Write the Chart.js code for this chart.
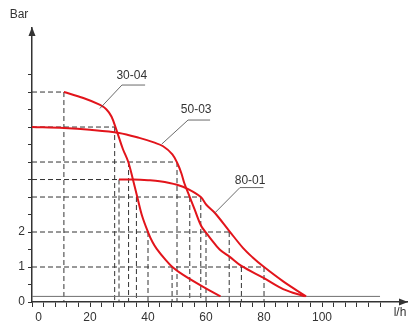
<!DOCTYPE html>
<html>
<head>
<meta charset="utf-8">
<script src="https://cdn.jsdelivr.net/npm/chart.js@4.4.1/dist/chart.umd.min.js"></script>
<style>
  html, body { margin: 0; padding: 0; background: #fff; }
  #wrap { width: 419px; height: 331px; }
</style>
</head>
<body>
<div id="wrap"><canvas id="c" width="419" height="331"></canvas></div>
<script>
// Pump curves: flow (l/h) against head (bar)
const curveNames = ['30-04', '50-03', '80-01'];

const flow3004 = [11, 17.7, 23.3, 25.6, 27.4, 29.1, 31.3, 33.2, 34.8, 36.3, 38, 40, 41.5, 43, 46, 48.4, 52, 58, 65];
const head3004 = [6.0, 5.83, 5.64, 5.51, 5.3, 4.92, 4.38, 4.0, 3.5, 3.0, 2.45, 2.0, 1.72, 1.52, 1.21, 1.0, 0.78, 0.48, 0.16];

const flow5003 = [0, 11, 20, 30, 37, 42, 45.2, 48.4, 50.2, 51.5, 52.5, 54.4, 56.1, 58.3, 60, 61.5, 64.7, 68.2, 72.2, 80, 86.6, 94];
const head5003 = [5.0, 4.97, 4.92, 4.83, 4.69, 4.56, 4.45, 4.22, 3.95, 3.68, 3.4, 3.0, 2.64, 2.18, 1.98, 1.82, 1.5, 1.29, 1.03, 0.68, 0.37, 0.16];

const flow8001 = [30, 35, 40, 44, 50, 54, 58.2, 60.1, 63, 68.1, 72.8, 76, 79.7, 86.6, 94.5];
const head8001 = [3.5, 3.5, 3.48, 3.45, 3.35, 3.22, 3.0, 2.78, 2.55, 2.02, 1.54, 1.28, 1.02, 0.59, 0.16];

// Reading guides: horizontal from the head axis, vertical drops to the flow axis
const guideHead = [6, 5, 4, 3.5, 3, 2, 1];
const guideFlow = [11, 28.5, 50, 30, 58.2, 68, 80];
const dropFlow = [11, 28.5, 30, 33.3, 36, 40, 48.3, 50, 54.4, 58.2, 60, 68, 72.2, 80];
const dropHead = [6, 5, 3.5, 4, 3, 2, 1, 4, 3, 3, 2, 2, 1, 1];

// Zero-flow reference line and axis extent
const baseHead = 0.16;
const flowEnd = 120;
const headLabels = [0, 1, 2];
const flowLabels = [0, 20, 40, 60, 80, 100];

const RED = '#e2141b';
const INK = '#333333';
const FONT = '"Liberation Sans", Arial, sans-serif';

const pts = (xs, ys) => xs.map((v, i) => ({ x: v, y: ys[i] }));

const curveSets = [
  [flow3004, head3004],
  [flow5003, head5003],
  [flow8001, head8001]
].map(([xs, ys], i) => ({
  label: curveNames[i],
  data: pts(xs, ys),
  borderColor: RED,
  borderWidth: 2,
  pointRadius: 0,
  tension: 0.35,
  fill: false
}));

const dash = { borderColor: INK, borderWidth: 1, borderDash: [5, 3], pointRadius: 0, fill: false, tension: 0 };

const guideSets = guideHead.map((h, i) => Object.assign({
  data: [{ x: 0, y: h }, { x: guideFlow[i], y: h }]
}, dash));

const dropSets = dropFlow.map((f, i) => Object.assign({
  data: [{ x: f, y: dropHead[i] }, { x: f, y: 0 }]
}, dash));

const baseSet = {
  data: [{ x: 0, y: baseHead }, { x: flowEnd, y: baseHead }],
  borderColor: '#6f6f6f', borderWidth: 1, pointRadius: 0, fill: false
};

// Curve callouts in data units: text centre, underline span, leader end
const callouts = [
  { text: curveNames[0], tx: 34.4, ty: 6.47, u0: 31.0, u1: 39.0, uy: 6.2, lx: 23.4, ly: 5.53 },
  { text: curveNames[1], tx: 56.6, ty: 5.49, u0: 53.8, u1: 61.4, uy: 5.2, lx: 44.7, ly: 4.51 },
  { text: curveNames[2], tx: 75.2, ty: 3.47, u0: 71.7, u1: 79.8, uy: 3.27, lx: 63.1, ly: 2.55 }
];

const decor = {
  id: 'decor',
  afterDraw(chart) {
    const { ctx, chartArea: a, scales: { x, y } } = chart;
    ctx.save();
    // axis arrowheads
    ctx.fillStyle = INK;
    ctx.beginPath();
    ctx.moveTo(a.right + 1, a.bottom);
    ctx.lineTo(a.right - 8, a.bottom - 3.5);
    ctx.lineTo(a.right - 8, a.bottom + 3.5);
    ctx.closePath();
    ctx.fill();
    ctx.beginPath();
    ctx.moveTo(a.left, a.top - 1);
    ctx.lineTo(a.left - 3.5, a.top + 8);
    ctx.lineTo(a.left + 3.5, a.top + 8);
    ctx.closePath();
    ctx.fill();
    // axis titles
    ctx.font = '12px ' + FONT;
    ctx.textAlign = 'center';
    ctx.textBaseline = 'middle';
    ctx.fillText('Bar', a.left - 13, a.top - 13);
    ctx.fillText('l/h', a.right - 7, a.bottom + 11);
    // callouts
    ctx.strokeStyle = '#5a5a5a';
    ctx.lineWidth = 0.9;
    callouts.forEach(c => {
      ctx.beginPath();
      ctx.moveTo(x.getPixelForValue(c.u1), y.getPixelForValue(c.uy));
      ctx.lineTo(x.getPixelForValue(c.u0), y.getPixelForValue(c.uy));
      ctx.lineTo(x.getPixelForValue(c.lx), y.getPixelForValue(c.ly));
      ctx.stroke();
      ctx.fillStyle = INK;
      ctx.fillText(c.text, x.getPixelForValue(c.tx), y.getPixelForValue(c.ty));
    });
    ctx.restore();
  }
};

new Chart(document.getElementById('c'), {
  type: 'line',
  data: { datasets: [...curveSets, baseSet, ...guideSets, ...dropSets] },
  options: {
    responsive: false,
    animation: false,
    layout: { padding: { top: 28, right: 12, bottom: 0, left: 0 } },
    plugins: { legend: { display: false }, tooltip: { enabled: false } },
    scales: {
      x: {
        type: 'linear',
        min: 0,
        max: 129.3,
        afterFit: s => { s.height = 29; },
        afterBuildTicks: s => {
          const t = [];
          for (let v = 0; v <= flowEnd; v += 4) t.push({ value: v });
          s.ticks = t;
        },
        ticks: {
          autoSkip: false,
          maxRotation: 0,
          padding: 3,
          color: INK,
          font: { family: FONT, size: 12 },
          callback: v => flowLabels.includes(v) ? (v === 0 ? '    0' : String(v)) : ''
        },
        grid: { drawOnChartArea: false, color: INK, tickLength: 5, lineWidth: 1 },
        border: { color: INK, width: 1.5 }
      },
      y: {
        type: 'linear',
        min: 0,
        max: 7.83,
        afterFit: s => { s.width = 32; },
        afterBuildTicks: s => {
          const t = [];
          for (let v = 0; v <= 6.5; v += 0.5) t.push({ value: v });
          s.ticks = t;
        },
        ticks: {
          autoSkip: false,
          padding: 3,
          color: INK,
          font: { family: FONT, size: 12 },
          callback: v => headLabels.includes(v) ? String(v) : ''
        },
        grid: { drawOnChartArea: false, color: INK, tickLength: 4, lineWidth: 1 },
        border: { color: INK, width: 1.5 }
      }
    }
  },
  plugins: [decor]
});
</script>
</body>
</html>
